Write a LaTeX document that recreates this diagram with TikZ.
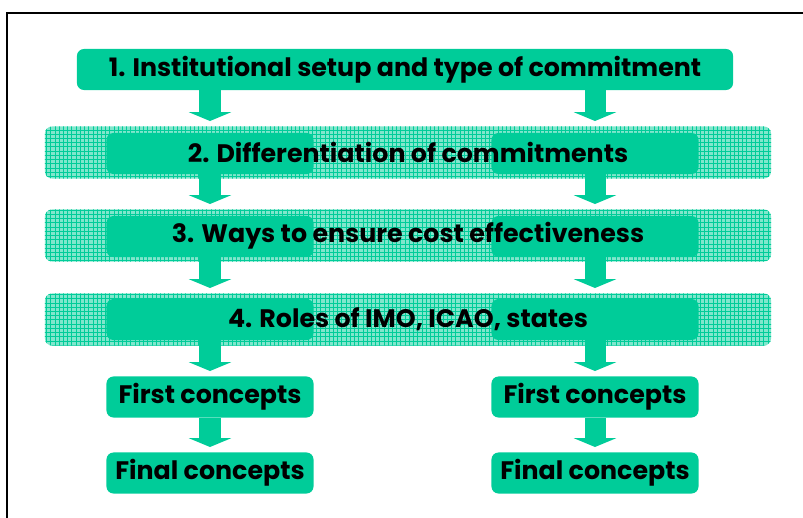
\documentclass[tikz,border=0pt]{standalone}
\usepackage{fontspec}
\setmainfont{Poppins}
\usetikzlibrary{arrows.meta, patterns, calc}
\definecolor{mint}{HTML}{00CC99}
\colorlet{mintpale}{mint!50!white}

\begin{document}
\begin{tikzpicture}[x=0.025cm, y=-0.025cm,
  txt/.style={font=\bfseries\fontsize{18}{21}\selectfont, text=black},
  box/.style={fill=mint, rounded corners=5pt, minimum height=1.025cm, inner sep=0pt, txt},
  colbox/.style={box, minimum width=5.175cm},
  band/.style={preaction={fill=mintpale}, pattern=grid, pattern color=mint, rounded corners=5pt, minimum width=18.15cm, minimum height=1.3cm, inner sep=0pt},
  flow/.style={draw=mint, line width=0.525cm, -{Triangle[length=0.22cm, width=1.05cm]}, shorten >=0.13cm}]
\useasboundingbox (0,0) rectangle (803,518);
\draw[line width=1.5pt] (7,518) -- (7,13) -- (803,13); %frame

% step 1
\node[box, minimum width=16.4cm] (s1) at (405,69.5) {1. Institutional setup and type of commitment};

% steps 2..4
\node[band] (b2) at (408,152.5) {};
\node[colbox] (l2) at (210,153.5) {}; \node[colbox] (r2) at (595,153.5) {};
\node[txt] (t2) at (b2) {2. Differentiation of commitments};

\node[band] (b3) at (408,235.5) {};
\node[colbox] (l3) at (210,236.5) {}; \node[colbox] (r3) at (595,236.5) {};
\node[txt] (t3) at (b3) {3. Ways to ensure cost effectiveness};

\node[band] (b4) at (408,319.5) {};
\node[colbox] (l4) at (210,319.5) {}; \node[colbox] (r4) at (595,319.5) {};
\node[txt] (t4) at (b4) {4. Roles of IMO, ICAO, states};

% concepts
\node[colbox] (lf) at (210,397) {First concepts};
\node[colbox] (rf) at (595,397) {First concepts};
\node[colbox] (ll) at (210,473) {Final concepts};
\node[colbox] (rl) at (595,473) {Final concepts};

% arrows
\draw[flow] (l2 |- s1.south) -- (l2 |- b2.north);
\draw[flow] (r2 |- s1.south) -- (r2 |- b2.north);
\draw[flow] (l2.south) -- (l2 |- b3.north);
\draw[flow] (r2.south) -- (r2 |- b3.north);
\draw[flow] (l3.south) -- (l3 |- b4.north);
\draw[flow] (r3.south) -- (r3 |- b4.north);
\draw[flow] (l4.south) -- (lf.north);
\draw[flow] (r4.south) -- (rf.north);
\draw[flow] (lf.south) -- (ll.north);
\draw[flow] (rf.south) -- (rl.north);
\end{tikzpicture}
\end{document}
